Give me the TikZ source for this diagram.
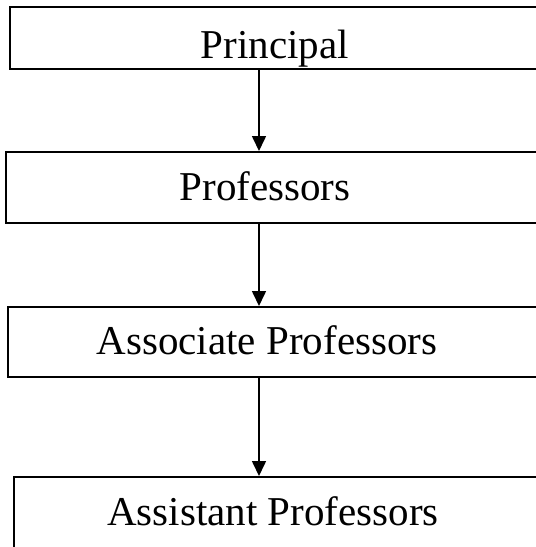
\documentclass[tikz,border=0pt]{standalone}
\usepackage{fontspec}
\setmainfont{Liberation Serif}
\usetikzlibrary{arrows.meta}
\tikzset{
  boxnode/.style={draw=black, line width=1.6pt, rectangle, inner sep=0pt, anchor=north west, minimum width=560pt},
  labeltext/.style={anchor=base, inner sep=0pt, font=\fontsize{41}{48}\selectfont},
  conn/.style={line width=1.6pt, -{Triangle[length=15pt,width=14pt]}}
}
\begin{document}
\begin{tikzpicture}[x=1pt,y=-1pt]
\useasboundingbox (0,0) rectangle (536,547);
\clip (0,0) rectangle (536,547);
\node[boxnode, minimum height=62pt] (b1) at (9,6) {};
\node[boxnode, minimum height=71pt] (b2) at (5,151) {};
\node[boxnode, minimum height=70pt] (b3) at (7,306) {};
\node[boxnode, minimum height=120pt] (b4) at (13,476) {};
\node[labeltext] (t1) at (275,58) {Principal};
\node[labeltext] (t2) at (265,200) {Professors};
\node[labeltext] (t3) at (267,354) {Associate Professors};
\node[labeltext] (t4) at (273,525) {Assistant Professors};
\coordinate (ax) at (259,0);
\draw[conn] (b1.south -| ax) -- (b2.north -| ax);
\draw[conn] (b2.south -| ax) -- (b3.north -| ax);
\draw[conn] (b3.south -| ax) -- (b4.north -| ax);
\end{tikzpicture}
\end{document}
